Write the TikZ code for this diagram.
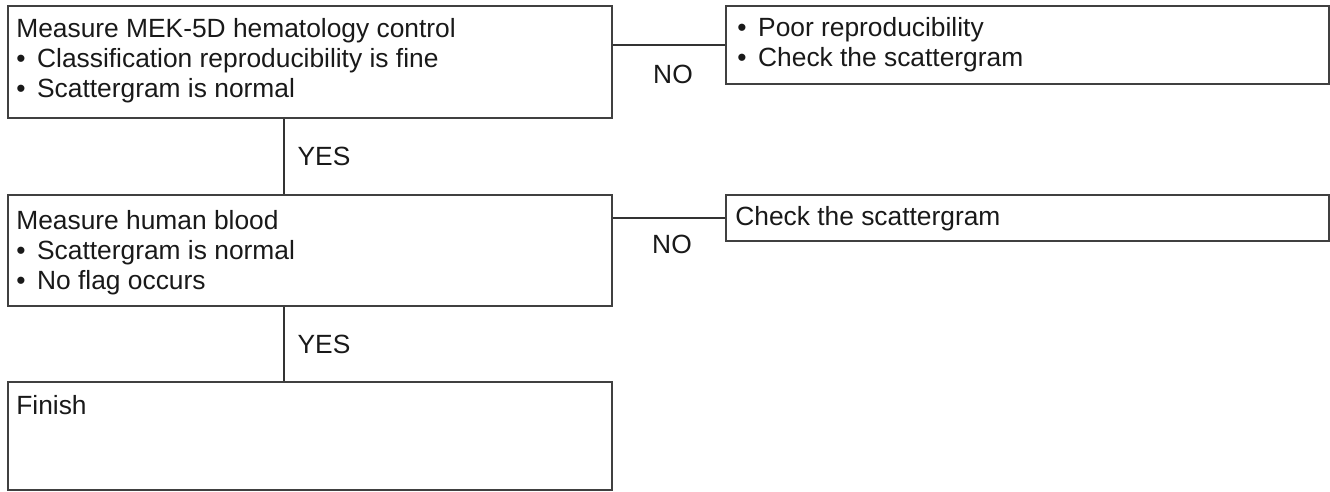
\documentclass[tikz,border=0pt]{standalone}
\usepackage{fontspec}
\setmainfont{Liberation Sans}
\usetikzlibrary{calc}
\newcommand{\bul}{\textbullet\hspace{0.44em}}

\begin{document}
\begin{tikzpicture}[x=0.02cm, y=-0.02cm,
	every node/.style={font=\fontsize{15pt}{17.1pt}\selectfont, text=black!90},
	box/.style={draw=black!75, line width=1pt, inner sep=0pt, anchor=north west},
	txt/.style={inner sep=0pt, anchor=north west, align=left},
	lbl/.style={inner sep=0pt, anchor=base},
	link/.style={draw=black!80, line width=1pt}]
	\useasboundingbox (0,0) rectangle (1330,491);
	% left column
	\node[box, minimum width=12.08cm, minimum height=2.24cm] (mek) at (7,5) {};
	\node[box, minimum width=12.08cm, minimum height=2.22cm] (blood) at (7,194) {};
	\node[box, minimum width=12.08cm, minimum height=2.16cm] (fin) at (7,381) {};
	\node[txt] (mektxt) at ($(mek.north west)+(9,13)$) {Measure MEK-5D hematology control\\\bul Classification reproducibility is fine\\\bul Scattergram is normal};
	\node[txt] (bloodtxt) at ($(blood.north west)+(9,16)$) {Measure human blood\\\bul Scattergram is normal\\\bul No flag occurs};
	\node[txt] (fintxt) at ($(fin.north west)+(9,14)$) {Finish};
	% right column
	\node[box, minimum width=12.06cm, minimum height=1.56cm] (poor) at (725,5) {};
	\node[box, minimum width=12.06cm, minimum height=0.92cm] (chk) at (725,194) {};
	\node[txt] (poortxt) at ($(poor.north west)+(12,12)$) {\bul Poor reproducibility\\\bul Check the scattergram};
	\node[txt] (chktxt) at ($(chk.north west)+(10,12)$) {Check the scattergram};
	% connectors
	\draw[link] (poor.west -| mek.east) -- (poor.west);
	\draw[link] (chk.west -| blood.east) -- (chk.west);
	\coordinate (down1) at ($(mek.south)+(-26,0)$);
	\coordinate (down2) at ($(blood.south)+(-26,0)$);
	\draw[link] (down1) -- (down1 |- blood.north);
	\draw[link] (down2) -- (down2 |- fin.north);
	\node[lbl] (no1) at (673,83) {NO};
	\node[lbl] (no2) at (672,253) {NO};
	\node[lbl] (yes1) at (324,165) {YES};
	\node[lbl] (yes2) at (324,353) {YES};
\end{tikzpicture}
\end{document}
